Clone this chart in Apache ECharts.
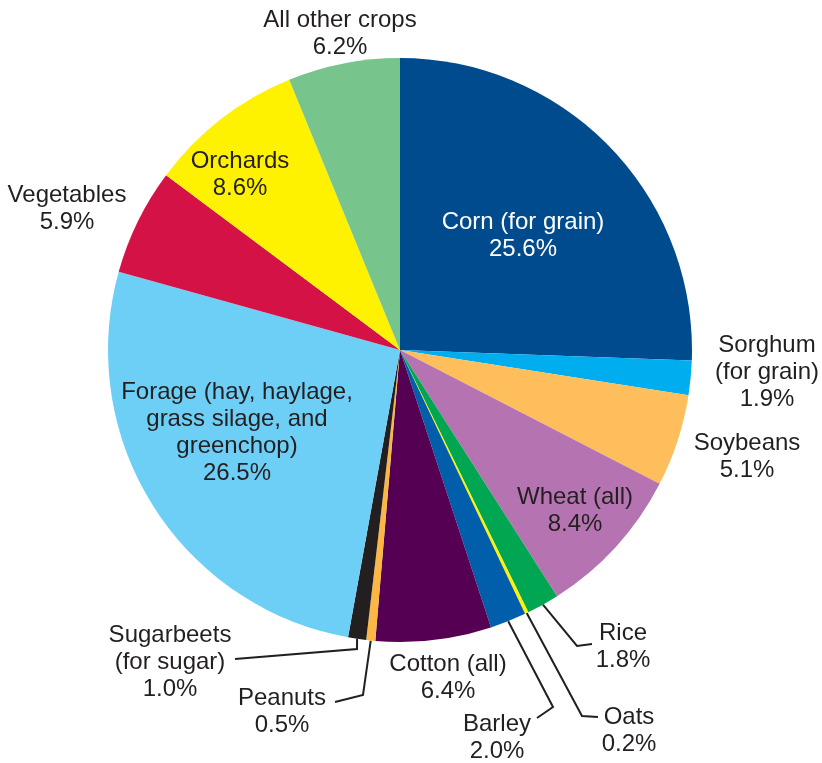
<!DOCTYPE html>
<html>
<head>
<meta charset="utf-8">
<script src="https://cdn.jsdelivr.net/npm/echarts@6/dist/echarts.min.js"></script>
<style>
html,body{margin:0;padding:0;background:#fff;}
#chart{width:822px;height:763px;}
</style>
</head>
<body>
<div id="chart"></div>
<script>
// ---- data ----
const categories = [
  'Corn (for grain)', 'Sorghum\n(for grain)', 'Soybeans', 'Wheat (all)', 'Rice', 'Oats', 'Barley',
  'Cotton (all)', 'Peanuts', 'Sugarbeets\n(for sugar)', 'Forage (hay, haylage,\ngrass silage, and\ngreenchop)',
  'Vegetables', 'Orchards', 'All other crops'
];
const shares = [25.6, 1.9, 5.1, 8.4, 1.8, 0.2, 2.0, 6.4, 0.5, 1.0, 26.5, 5.9, 8.6, 6.2];

// ---- styles / layout (not data) ----
const colors = ['#004b8d', '#00aeef', '#fdbe5b', '#b574b1', '#00a651', '#fff200', '#005eab',
  '#560054', '#fbb643', '#231f20', '#6dcff6', '#d41245', '#fff200', '#77c48c'];
const labelColors = ['#ffffff'];
const labelPlace = [
  {x: 523, y: 236},
  {x: 767, y: 372},
  {x: 747, y: 457},
  {x: 575, y: 511},
  {x: 623, y: 647, line: [[577, 646], [592, 644]]},
  {x: 629, y: 731, line: [[582, 716], [598, 717]]},
  {x: 497, y: 738, line: [[553, 707], [537, 718]]},
  {x: 448, y: 678},
  {x: 282, y: 712, line: [[363, 695], [335, 702]]},
  {x: 170, y: 662, line: [[357, 649], [235, 659]]},
  {x: 237, y: 433},
  {x: 67, y: 209},
  {x: 240, y: 175},
  {x: 340, y: 34}
];

const data = categories.map((name, i) => ({
  name: name,
  value: shares[i],
  itemStyle: {color: colors[i]},
  label: {color: labelColors[i] || '#231f20'},
  labelLine: {show: !!labelPlace[i].line}
}));

const chart = echarts.init(document.getElementById('chart'), null, {renderer: 'canvas'});
chart.setOption({
  animation: false,
  backgroundColor: '#ffffff',
  series: [{
    type: 'pie',
    center: [400, 350],
    radius: 292,
    startAngle: 90,
    clockwise: true,
    avoidLabelOverlap: false,
    itemStyle: {borderWidth: 0},
    emphasis: {disabled: true},
    label: {
      show: true,
      position: 'outside',
      fontFamily: '"Liberation Sans", Arial, Helvetica, sans-serif',
      fontSize: 24,
      lineHeight: 27,
      align: 'center',
      formatter: p => p.name + '\n' + p.value.toFixed(1) + '%'
    },
    labelLine: {
      show: false,
      lineStyle: {color: '#231f20', width: 2}
    },
    labelLayout: function (p) {
      const lp = labelPlace[p.dataIndex];
      const out = {x: lp.x, y: lp.y, align: 'center', verticalAlign: 'middle'};
      if (lp.line && p.labelLinePoints) {
        out.labelLinePoints = [p.labelLinePoints[0], lp.line[0], lp.line[1]];
      }
      return out;
    },
    data: data
  }]
});
</script>
</body>
</html>
